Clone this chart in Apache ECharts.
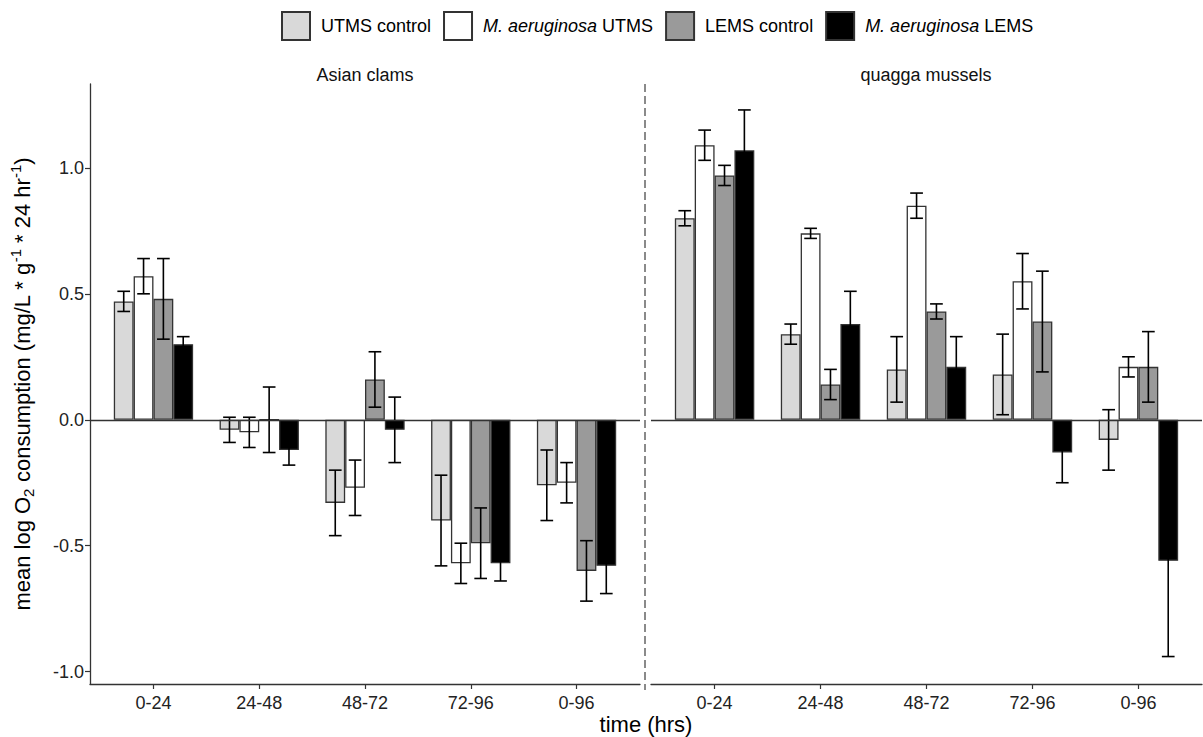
<!DOCTYPE html>
<html>
<head>
<meta charset="utf-8">
<script src="https://cdn.jsdelivr.net/npm/echarts@6/dist/echarts.min.js"></script>
<style>
  html, body { margin: 0; padding: 0; background: #fff; }
  #chart { width: 1203px; height: 737px; }
</style>
</head>
<body>
<div id="chart"></div>
<script>
const categories = ['0-24', '24-48', '48-72', '72-96', '0-96'];
const groupNames = ['UTMS control', 'M. aeruginosa UTMS', 'LEMS control', 'M. aeruginosa LEMS'];
const groupColors = ['#d9d9d9', '#ffffff', '#9a9a9a', '#000000'];
const yTicks = [-1.0, -0.5, 0.0, 0.5, 1.0];

// Asian clams: means and error half-widths
const clamUtmsControl = [0.47, -0.04, -0.33, -0.40, -0.26];
const clamUtmsControlErr = [0.04, 0.05, 0.13, 0.18, 0.14];
const clamUtmsAlgae = [0.57, -0.05, -0.27, -0.57, -0.25];
const clamUtmsAlgaeErr = [0.07, 0.06, 0.11, 0.08, 0.08];
const clamLemsControl = [0.48, 0.00, 0.16, -0.49, -0.60];
const clamLemsControlErr = [0.16, 0.13, 0.11, 0.14, 0.12];
const clamLemsAlgae = [0.30, -0.12, -0.04, -0.57, -0.58];
const clamLemsAlgaeErr = [0.03, 0.06, 0.13, 0.07, 0.11];

// quagga mussels
const quaggaUtmsControl = [0.80, 0.34, 0.20, 0.18, -0.08];
const quaggaUtmsControlErr = [0.03, 0.04, 0.13, 0.16, 0.12];
const quaggaUtmsAlgae = [1.09, 0.74, 0.85, 0.55, 0.21];
const quaggaUtmsAlgaeErr = [0.06, 0.02, 0.05, 0.11, 0.04];
const quaggaLemsControl = [0.97, 0.14, 0.43, 0.39, 0.21];
const quaggaLemsControlErr = [0.04, 0.06, 0.03, 0.20, 0.14];
const quaggaLemsAlgae = [1.07, 0.38, 0.21, -0.13, -0.56];
const quaggaLemsAlgaeErr = [0.16, 0.13, 0.12, 0.12, 0.38];

const panels = [
  {
    title: 'Asian clams',
    means: [clamUtmsControl, clamUtmsAlgae, clamLemsControl, clamLemsAlgae],
    errs: [clamUtmsControlErr, clamUtmsAlgaeErr, clamLemsControlErr, clamLemsAlgaeErr]
  },
  {
    title: 'quagga mussels',
    means: [quaggaUtmsControl, quaggaUtmsAlgae, quaggaLemsControl, quaggaLemsAlgae],
    errs: [quaggaUtmsControlErr, quaggaUtmsAlgaeErr, quaggaLemsControlErr, quaggaLemsAlgaeErr]
  }
];

const FONT = '"Liberation Sans", Arial, Helvetica, sans-serif';
const AXIS_COLOR = '#333';
const BAR_SHARE = 0.75 / 4; // each bar's share of one category step
const catIndex = categories.map((c, i) => i);

function renderErrorBar(params, api) {
  const i = api.value(0);
  const m = api.value(1);
  const e = api.value(2);
  const k = api.value(3);
  const step = api.size([1, 0])[0];
  const barW = step * BAR_SHARE;
  const hi = api.coord([i, m + e]);
  const lo = api.coord([i, m - e]);
  const x = hi[0] + (k - 1.5) * barW;
  const half = barW * 0.32;
  const style = { stroke: '#000', lineWidth: 1.6 };
  return {
    type: 'group',
    children: [
      { type: 'line', shape: { x1: x, y1: hi[1], x2: x, y2: lo[1] }, style },
      { type: 'line', shape: { x1: x - half, y1: hi[1], x2: x + half, y2: hi[1] }, style },
      { type: 'line', shape: { x1: x - half, y1: lo[1], x2: x + half, y2: lo[1] }, style }
    ]
  };
}

const grids = [
  { left: 90, top: 84, width: 550, height: 600, outerBoundsMode: 'none' },
  { left: 651, top: 84, width: 551, height: 600, outerBoundsMode: 'none' }
];

const xAxes = panels.map((p, pi) => ({
  gridIndex: pi,
  type: 'value',
  min: -0.6,
  max: 4.6,
  axisLine: { show: true, onZero: false, lineStyle: { color: AXIS_COLOR, width: 1.3 } },
  axisTick: { show: true, customValues: catIndex, length: 5, lineStyle: { color: AXIS_COLOR, width: 1.2 } },
  axisLabel: {
    customValues: catIndex,
    formatter: (v) => categories[Math.round(v)],
    fontSize: 18,
    fontFamily: FONT,
    color: '#222',
    margin: 10
  },
  splitLine: { show: false }
}));

const yAxes = [
  {
    gridIndex: 0,
    type: 'value',
    min: -1.049,
    max: 1.333,
    axisLine: { show: true, onZero: false, lineStyle: { color: AXIS_COLOR, width: 1.3 } },
    axisTick: { show: true, customValues: yTicks, length: 5, lineStyle: { color: AXIS_COLOR, width: 1.2 } },
    axisLabel: {
      customValues: yTicks,
      formatter: (v) => v.toFixed(1),
      fontSize: 18,
      fontFamily: FONT,
      color: '#222',
      margin: 6
    },
    splitLine: { show: false },
    name: 'mean log O{sub|2} consumption (mg/L * g{sup|-1} * 24 hr{sup|-1})',
    nameLocation: 'middle',
    nameRotate: 90,
    nameGap: 54,
    nameTextStyle: {
      fontSize: 22,
      fontFamily: FONT,
      color: '#000',
      lineHeight: 28,
      rich: {
        sub: { fontSize: 15, fontFamily: FONT, color: '#000', lineHeight: 15, verticalAlign: 'bottom' },
        sup: { fontSize: 15, fontFamily: FONT, color: '#000', lineHeight: 15, verticalAlign: 'top' }
      }
    }
  },
  { gridIndex: 1, type: 'value', min: -1.049, max: 1.333, show: false }
];

const series = [];
panels.forEach((p, pi) => {
  p.means.forEach((vals, k) => {
    series.push({
      type: 'bar',
      name: groupNames[k],
      xAxisIndex: pi,
      yAxisIndex: pi,
      data: vals.map((v, i) => [i, v]),
      barWidth: (BAR_SHARE * 100) + '%',
      barGap: '0%',
      itemStyle: { color: groupColors[k], borderColor: '#333', borderWidth: 1.3 },
      z: 2,
      markLine: k === 0 ? {
        silent: true,
        symbol: ['none', 'none'],
        label: { show: false },
        lineStyle: { color: '#333', width: 1.4, type: 'solid' },
        data: [{ yAxis: 0 }]
      } : undefined
    });
  });
  const rows = [];
  p.means.forEach((vals, k) => {
    vals.forEach((v, i) => rows.push([i, v, p.errs[k][i], k]));
  });
  series.push({
    type: 'custom',
    xAxisIndex: pi,
    yAxisIndex: pi,
    z: 4,
    silent: true,
    encode: { x: 0, y: 1 },
    data: rows,
    renderItem: renderErrorBar
  });
});

const chart = echarts.init(document.getElementById('chart'), null, { renderer: 'svg' });
chart.setOption({
  animation: false,
  backgroundColor: '#fff',
  textStyle: { fontFamily: FONT },
  legend: {
    data: groupNames,
    top: 6,
    left: 276,
    itemWidth: 28,
    itemHeight: 28,
    itemGap: 12,
    icon: 'rect',
    formatter: (name) => name.startsWith('M. aeruginosa')
      ? '{i|M. aeruginosa}' + name.slice('M. aeruginosa'.length)
      : name,
    textStyle: {
      fontSize: 18,
      fontFamily: FONT,
      color: '#000',
      padding: [0, 0, 0, 6],
      rich: { i: { fontSize: 18, fontFamily: FONT, fontStyle: 'italic', color: '#000' } }
    }
  },
  grid: grids,
  xAxis: xAxes,
  yAxis: yAxes,
  series: series,
  graphic: [
    {
      type: 'line',
      silent: true,
      shape: { x1: 645, y1: 84, x2: 645, y2: 690 },
      style: { stroke: '#8a8a8a', lineWidth: 2, lineDash: [8, 4] }
    },
    {
      type: 'text', x: 365, y: 75, silent: true,
      style: { text: panels[0].title, fontSize: 18, fontFamily: FONT, fill: '#111', textAlign: 'center', textVerticalAlign: 'middle' }
    },
    {
      type: 'text', x: 926, y: 75, silent: true,
      style: { text: panels[1].title, fontSize: 18, fontFamily: FONT, fill: '#111', textAlign: 'center', textVerticalAlign: 'middle' }
    },
    {
      type: 'text', x: 646, y: 724, silent: true,
      style: { text: 'time (hrs)', fontSize: 22, fontFamily: FONT, fill: '#000', textAlign: 'center', textVerticalAlign: 'middle' }
    }
  ]
});
</script>
</body>
</html>
